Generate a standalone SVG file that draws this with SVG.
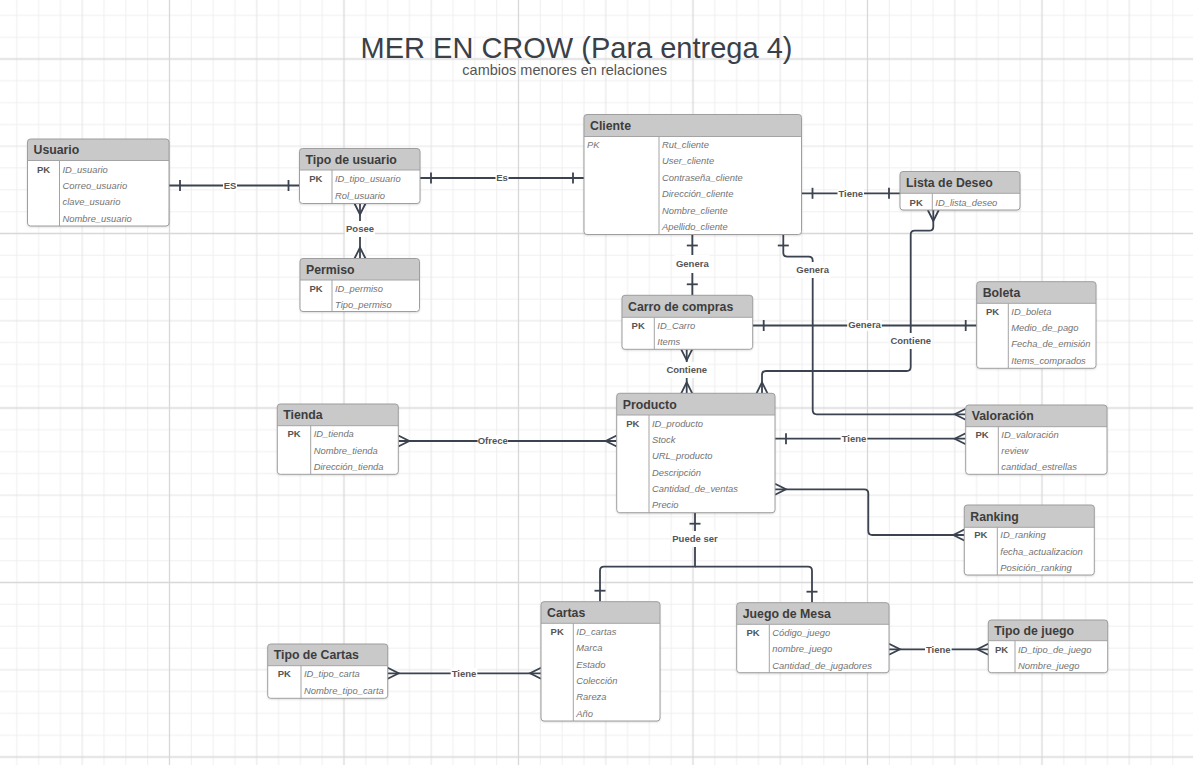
<svg xmlns="http://www.w3.org/2000/svg" width="1193" height="765" viewBox="0 0 1193 765">
<style>
.body{fill:#fff;}
.frame{fill:none;stroke:#9e9e9e;stroke-width:1;}
.hdr{fill:#c9c9c9;}
.sep{stroke:#a4a4a4;stroke-width:1;}
.h{font-family:"Liberation Sans",Arial,sans-serif;font-size:12.3px;font-weight:bold;fill:#3d3d3d;}
.pk{font-family:"Liberation Sans",Arial,sans-serif;font-size:9.5px;font-weight:bold;fill:#555;text-anchor:middle;}
.pki{font-family:"Liberation Sans",Arial,sans-serif;font-size:9.4px;font-style:italic;fill:#777;}
.a{font-family:"Liberation Sans",Arial,sans-serif;font-size:9.4px;font-style:italic;fill:#737373;}
.c{fill:none;stroke:#3b4250;stroke-width:1.8;stroke-linejoin:round;}
.lb{font-family:"Liberation Sans",Arial,sans-serif;font-size:9.5px;font-weight:bold;fill:#555;text-anchor:middle;}
.lbg{fill:#fff;}
.mk{fill:none;stroke:#3b4250;stroke-width:1.8;stroke-linecap:butt;}
</style>
<defs>
<pattern id="grid" patternUnits="userSpaceOnUse" x="82.25" y="-28.25" width="174.5" height="174.5">
<path d="M21.81,0V174.5M43.63,0V174.5M65.44,0V174.5M109.06,0V174.5M130.88,0V174.5M152.69,0V174.5M0,21.81H174.5M0,43.63H174.5M0,65.44H174.5M0,109.06H174.5M0,130.88H174.5M0,152.69H174.5" stroke="#efefef" stroke-width="1" fill="none"/>
<path d="M0,0V174.5M174.5,0V174.5M0,0H174.5M0,174.5H174.5" stroke="#e3e3e3" stroke-width="1" fill="none"/>
<path d="M87.25,0V174.5M0,87.25H174.5" stroke="#d8d8d8" stroke-width="1.3" fill="none"/>
</pattern>
<filter id="sh" x="-5%" y="-5%" width="110%" height="115%">
<feDropShadow dx="0" dy="1" stdDeviation="0.8" flood-color="#000" flood-opacity="0.18"/>
</filter>
<marker id="oneE" markerUnits="userSpaceOnUse" orient="auto" overflow="visible" refX="0" refY="0" markerWidth="1" markerHeight="1"><path class="mk" d="M-11,-5.5V5.5"/></marker>
<marker id="oneS" markerUnits="userSpaceOnUse" orient="auto" overflow="visible" refX="0" refY="0" markerWidth="1" markerHeight="1"><path class="mk" d="M11,-5.5V5.5"/></marker>
<marker id="manyE" markerUnits="userSpaceOnUse" orient="auto" overflow="visible" refX="0" refY="0" markerWidth="1" markerHeight="1"><path class="mk" d="M0,-5.5L-11,0L0,5.5"/></marker>
<marker id="manyS" markerUnits="userSpaceOnUse" orient="auto" overflow="visible" refX="0" refY="0" markerWidth="1" markerHeight="1"><path class="mk" d="M0,-5.5L11,0L0,5.5"/></marker>
</defs>
<rect x="0" y="0" width="1193" height="765" fill="#fff"/>
<rect x="0" y="0" width="1193" height="765" fill="url(#grid)"/>

<g id="title">
<text x="576.5" y="57.5" font-family="'Liberation Sans',Arial,sans-serif" font-size="29" fill="#3b4048" text-anchor="middle">MER EN CROW (Para entrega 4)</text>
<text x="564.7" y="75" font-family="'Liberation Sans',Arial,sans-serif" font-size="14.5" fill="#555" text-anchor="middle">cambios menores en relaciones</text>
</g>

<g id="connectors">
<path class="c" d="M169,185.5H299.5" marker-start="url(#oneS)" marker-end="url(#oneE)"/>
<path class="c" d="M420,178H584" marker-start="url(#oneS)" marker-end="url(#oneE)"/>
<path class="c" d="M360,203.5V258.5" marker-start="url(#manyS)" marker-end="url(#manyE)"/>
<path class="c" d="M801.5,193.3H900" marker-start="url(#oneS)" marker-end="url(#oneE)"/>
<path class="c" d="M692.3,234.5V295.3" marker-start="url(#oneS)" marker-end="url(#oneE)"/>
<path class="c" d="M783.3,234.5V252.7Q783.3,256.7 787.3,256.7H808.7Q812.7,256.7 812.7,260.7V410.3Q812.7,414.3 816.7,414.3H965.7" marker-start="url(#oneS)" marker-end="url(#manyE)"/>
<path class="c" d="M752.7,325.5H976.7" marker-start="url(#oneS)" marker-end="url(#oneE)"/>
<path class="c" d="M686.7,349.3V393.3" marker-start="url(#manyS)" marker-end="url(#manyE)"/>
<path class="c" d="M933.3,210V226.7Q933.3,230.7 929.3,230.7H914.7Q910.7,230.7 910.7,234.7V367Q910.7,371 906.7,371H766Q762,371 762,375V393.3" marker-start="url(#manyS)" marker-end="url(#manyE)"/>
<path class="c" d="M398.3,441H616.7" marker-start="url(#manyS)" marker-end="url(#manyE)"/>
<path class="c" d="M775,438.7H965.7" marker-start="url(#oneS)" marker-end="url(#manyE)"/>
<path class="c" d="M775,489.3H864.3Q868.3,489.3 868.3,493.3V531Q868.3,535 872.3,535H964.3" marker-start="url(#manyS)" marker-end="url(#manyE)"/>
<path class="c" d="M695,512.7V566.7H604Q600,566.7 600,570.7V601.7" marker-start="url(#oneS)" marker-end="url(#oneE)"/>
<path class="c" d="M695,566.7H808Q812,566.7 812,570.7V602.7" marker-end="url(#oneE)"/>
<path class="c" d="M387.7,673.3H541" marker-start="url(#manyS)" marker-end="url(#manyE)"/>
<path class="c" d="M889,649.3H988.3" marker-start="url(#manyS)" marker-end="url(#manyE)"/>
<g id="connector-labels">
<rect class="lbg" x="223" y="180" width="14" height="11"/><text class="lb" x="230" y="188.9">ES</text>
<rect class="lbg" x="495.5" y="172.5" width="13" height="11"/><text class="lb" x="502" y="181.4">Es</text>
<rect class="lbg" x="345" y="221" width="30" height="16"/><text class="lb" x="360" y="232.4">Posee</text>
<rect class="lbg" x="837.5" y="187.8" width="26.5" height="11"/><text class="lb" x="850.7" y="196.7">Tiene</text>
<rect class="lbg" x="675" y="255" width="34.6" height="18"/><text class="lb" x="692.3" y="267.4">Genera</text>
<rect class="lbg" x="795.4" y="262" width="34.6" height="16"/><text class="lb" x="812.7" y="273.4">Genera</text>
<rect class="lbg" x="847.2" y="320" width="34.6" height="11"/><text class="lb" x="864.5" y="328.4">Genera</text>
<rect class="lbg" x="665.4" y="362" width="42.6" height="16"/><text class="lb" x="686.7" y="373.4">Contiene</text>
<rect class="lbg" x="889.4" y="333" width="42.6" height="16"/><text class="lb" x="910.7" y="344.4">Contiene</text>
<rect class="lbg" x="477.6" y="435.5" width="30.2" height="11"/><text class="lb" x="492.7" y="444.4">Ofrece</text>
<rect class="lbg" x="840.7" y="433.2" width="26.6" height="11"/><text class="lb" x="854" y="442.1">Tiene</text>
<rect class="lbg" x="671.5" y="531" width="47" height="16"/><text class="lb" x="695" y="542.4">Puede ser</text>
<rect class="lbg" x="450.7" y="667.8" width="26.6" height="11"/><text class="lb" x="464" y="676.7">Tiene</text>
<rect class="lbg" x="925" y="643.8" width="26.6" height="11"/><text class="lb" x="938.3" y="652.7">Tiene</text>
</g>
</g>

<g id="usuario">
<rect class="body" filter="url(#sh)" x="27.5" y="139" width="141.5" height="87" rx="3"/>
<path class="hdr" d="M27.5,160.5V142Q27.5,139 30.5,139H166Q169,139 169,142V160.5Z"/>
<path class="sep" d="M27.5,160.5H169M59.5,160.5V226"/>
<rect class="frame" x="27.5" y="139" width="141.5" height="87" rx="3"/>
<text class="h" x="33.5" y="154">Usuario</text>
<text class="pk" x="43.5" y="172.5">PK</text>
<text class="a" x="62.5" y="172.5">ID_usuario</text>
<text class="a" x="62.5" y="189">Correo_usuario</text>
<text class="a" x="62.5" y="205.3">clave_usuario</text>
<text class="a" x="62.5" y="221.8">Nombre_usuario</text>
</g>

<g id="tipo-usuario">
<rect class="body" filter="url(#sh)" x="299.5" y="148.5" width="120.5" height="55" rx="3"/>
<path class="hdr" d="M299.5,170V151.5Q299.5,148.5 302.5,148.5H417Q420,148.5 420,151.5V170Z"/>
<path class="sep" d="M299.5,170H420M332,170V203.5"/>
<rect class="frame" x="299.5" y="148.5" width="120.5" height="55" rx="3"/>
<text class="h" x="305.5" y="163.5">Tipo de usuario</text>
<text class="pk" x="315.8" y="182">PK</text>
<text class="a" x="335" y="182">ID_tipo_usuario</text>
<text class="a" x="335" y="198.6">Rol_usuario</text>
</g>

<g id="permiso">
<rect class="body" filter="url(#sh)" x="300" y="258.5" width="119.5" height="53" rx="3"/>
<path class="hdr" d="M300,280V261.5Q300,258.5 303,258.5H416.5Q419.5,258.5 419.5,261.5V280Z"/>
<path class="sep" d="M300,280H419.5M332,280V311.5"/>
<rect class="frame" x="300" y="258.5" width="119.5" height="53" rx="3"/>
<text class="h" x="306" y="273.5">Permiso</text>
<text class="pk" x="316" y="291.8">PK</text>
<text class="a" x="335" y="291.8">ID_permiso</text>
<text class="a" x="335" y="307.8">Tipo_permiso</text>
</g>

<g id="cliente">
<rect class="body" filter="url(#sh)" x="584" y="114.5" width="217.5" height="120" rx="3"/>
<path class="hdr" d="M584,136.5V117.5Q584,114.5 587,114.5H798.5Q801.5,114.5 801.5,117.5V136.5Z"/>
<path class="sep" d="M584,136.5H801.5M659,136.5V234.5"/>
<rect class="frame" x="584" y="114.5" width="217.5" height="120" rx="3"/>
<text class="h" x="590" y="129.8">Cliente</text>
<text class="pki" x="587" y="148">PK</text>
<text class="a" x="662" y="148">Rut_cliente</text>
<text class="a" x="662" y="164.4">User_cliente</text>
<text class="a" x="662" y="180.8">Contraseña_cliente</text>
<text class="a" x="662" y="197.1">Dirección_cliente</text>
<text class="a" x="662" y="213.5">Nombre_cliente</text>
<text class="a" x="662" y="229.9">Apellido_cliente</text>
</g>

<g id="lista-deseo">
<rect class="body" filter="url(#sh)" x="900" y="171.5" width="120" height="38.5" rx="3"/>
<path class="hdr" d="M900,193.3V174.5Q900,171.5 903,171.5H1017Q1020,171.5 1020,174.5V193.3Z"/>
<path class="sep" d="M900,193.3H1020M932.3,193.3V210"/>
<rect class="frame" x="900" y="171.5" width="120" height="38.5" rx="3"/>
<text class="h" x="906" y="186.7">Lista de Deseo</text>
<text class="pk" x="916.2" y="205.6">PK</text>
<text class="a" x="935.3" y="205.6">ID_lista_deseo</text>
</g>

<g id="carro-compras">
<rect class="body" filter="url(#sh)" x="622" y="295.3" width="130.7" height="54" rx="3"/>
<path class="hdr" d="M622,317.3V298.3Q622,295.3 625,295.3H749.7Q752.7,295.3 752.7,298.3V317.3Z"/>
<path class="sep" d="M622,317.3H752.7M654.3,317.3V349.3"/>
<rect class="frame" x="622" y="295.3" width="130.7" height="54" rx="3"/>
<text class="h" x="628" y="310.6">Carro de compras</text>
<text class="pk" x="638.2" y="329">PK</text>
<text class="a" x="657.3" y="329">ID_Carro</text>
<text class="a" x="657.3" y="345">Items</text>
</g>

<g id="boleta">
<rect class="body" filter="url(#sh)" x="976.7" y="281.7" width="119.3" height="86.6" rx="3"/>
<path class="hdr" d="M976.7,303.3V284.7Q976.7,281.7 979.7,281.7H1093Q1096,281.7 1096,284.7V303.3Z"/>
<path class="sep" d="M976.7,303.3H1096M1008.3,303.3V368.3"/>
<rect class="frame" x="976.7" y="281.7" width="119.3" height="86.6" rx="3"/>
<text class="h" x="982.7" y="296.8">Boleta</text>
<text class="pk" x="992.5" y="315">PK</text>
<text class="a" x="1011.3" y="315">ID_boleta</text>
<text class="a" x="1011.3" y="331.1">Medio_de_pago</text>
<text class="a" x="1011.3" y="347.3">Fecha_de_emisión</text>
<text class="a" x="1011.3" y="363.5">Items_comprados</text>
</g>

<g id="tienda">
<rect class="body" filter="url(#sh)" x="277.3" y="404" width="121" height="70.3" rx="3"/>
<path class="hdr" d="M277.3,425.7V407Q277.3,404 280.3,404H395.3Q398.3,404 398.3,407V425.7Z"/>
<path class="sep" d="M277.3,425.7H398.3M310.7,425.7V474.3"/>
<rect class="frame" x="277.3" y="404" width="121" height="70.3" rx="3"/>
<text class="h" x="283.3" y="419.2">Tienda</text>
<text class="pk" x="294" y="437.3">PK</text>
<text class="a" x="313.7" y="437.3">ID_tienda</text>
<text class="a" x="313.7" y="453.8">Nombre_tienda</text>
<text class="a" x="313.7" y="470.3">Dirección_tienda</text>
</g>

<g id="producto">
<rect class="body" filter="url(#sh)" x="616.7" y="393.3" width="158.3" height="119.4" rx="3"/>
<path class="hdr" d="M616.7,415V396.3Q616.7,393.3 619.7,393.3H772Q775,393.3 775,396.3V415Z"/>
<path class="sep" d="M616.7,415H775M649,415V512.7"/>
<rect class="frame" x="616.7" y="393.3" width="158.3" height="119.4" rx="3"/>
<text class="h" x="622.7" y="408.5">Producto</text>
<text class="pk" x="632.8" y="426.6">PK</text>
<text class="a" x="652" y="426.6">ID_producto</text>
<text class="a" x="652" y="443">Stock</text>
<text class="a" x="652" y="459.3">URL_producto</text>
<text class="a" x="652" y="475.7">Descripción</text>
<text class="a" x="652" y="492">Cantidad_de_ventas</text>
<text class="a" x="652" y="508.4">Precio</text>
</g>

<g id="valoracion">
<rect class="body" filter="url(#sh)" x="965.7" y="405" width="141.3" height="69.3" rx="3"/>
<path class="hdr" d="M965.7,426.7V408Q965.7,405 968.7,405H1104Q1107,405 1107,408V426.7Z"/>
<path class="sep" d="M965.7,426.7H1107M998.3,426.7V474.3"/>
<rect class="frame" x="965.7" y="405" width="141.3" height="69.3" rx="3"/>
<text class="h" x="971.7" y="420.2">Valoración</text>
<text class="pk" x="982" y="437.8">PK</text>
<text class="a" x="1001.3" y="437.8">ID_valoración</text>
<text class="a" x="1001.3" y="454.1">review</text>
<text class="a" x="1001.3" y="470.3">cantidad_estrellas</text>
</g>

<g id="ranking">
<rect class="body" filter="url(#sh)" x="964.3" y="505" width="130" height="70" rx="3"/>
<path class="hdr" d="M964.3,527.3V508Q964.3,505 967.3,505H1091.3Q1094.3,505 1094.3,508V527.3Z"/>
<path class="sep" d="M964.3,527.3H1094.3M997.3,527.3V575"/>
<rect class="frame" x="964.3" y="505" width="130" height="70" rx="3"/>
<text class="h" x="970.3" y="520.5">Ranking</text>
<text class="pk" x="980.8" y="538.3">PK</text>
<text class="a" x="1000.3" y="538.3">ID_ranking</text>
<text class="a" x="1000.3" y="554.8">fecha_actualizacion</text>
<text class="a" x="1000.3" y="571.1">Posición_ranking</text>
</g>

<g id="cartas">
<rect class="body" filter="url(#sh)" x="541" y="601.7" width="119" height="119.3" rx="3"/>
<path class="hdr" d="M541,623.3V604.7Q541,601.7 544,601.7H657Q660,601.7 660,604.7V623.3Z"/>
<path class="sep" d="M541,623.3H660M573.3,623.3V721"/>
<rect class="frame" x="541" y="601.7" width="119" height="119.3" rx="3"/>
<text class="h" x="547" y="617">Cartas</text>
<text class="pk" x="557.2" y="635">PK</text>
<text class="a" x="576.3" y="635">ID_cartas</text>
<text class="a" x="576.3" y="651.3">Marca</text>
<text class="a" x="576.3" y="667.6">Estado</text>
<text class="a" x="576.3" y="683.9">Colección</text>
<text class="a" x="576.3" y="700.2">Rareza</text>
<text class="a" x="576.3" y="716.5">Año</text>
</g>

<g id="tipo-cartas">
<rect class="body" filter="url(#sh)" x="267.7" y="644" width="120" height="54.3" rx="3"/>
<path class="hdr" d="M267.7,665.7V647Q267.7,644 270.7,644H384.7Q387.7,644 387.7,647V665.7Z"/>
<path class="sep" d="M267.7,665.7H387.7M301,665.7V698.3"/>
<rect class="frame" x="267.7" y="644" width="120" height="54.3" rx="3"/>
<text class="h" x="273.7" y="659.2">Tipo de Cartas</text>
<text class="pk" x="284.3" y="677.3">PK</text>
<text class="a" x="304" y="677.3">ID_tipo_carta</text>
<text class="a" x="304" y="693.8">Nombre_tipo_carta</text>
</g>

<g id="juego-mesa">
<rect class="body" filter="url(#sh)" x="736.7" y="602.7" width="152.3" height="70" rx="3"/>
<path class="hdr" d="M736.7,624.3V605.7Q736.7,602.7 739.7,602.7H886Q889,602.7 889,605.7V624.3Z"/>
<path class="sep" d="M736.7,624.3H889M769.3,624.3V672.7"/>
<rect class="frame" x="736.7" y="602.7" width="152.3" height="70" rx="3"/>
<text class="h" x="742.7" y="617.8">Juego de Mesa</text>
<text class="pk" x="753" y="636">PK</text>
<text class="a" x="772.3" y="636">Código_juego</text>
<text class="a" x="772.3" y="652.3">nombre_juego</text>
<text class="a" x="772.3" y="668.6">Cantidad_de_jugadores</text>
</g>

<g id="tipo-juego">
<rect class="body" filter="url(#sh)" x="988.3" y="620" width="119.4" height="52.7" rx="3"/>
<path class="hdr" d="M988.3,640.7V623Q988.3,620 991.3,620H1104.7Q1107.7,620 1107.7,623V640.7Z"/>
<path class="sep" d="M988.3,640.7H1107.7M1015,640.7V672.7"/>
<rect class="frame" x="988.3" y="620" width="119.4" height="52.7" rx="3"/>
<text class="h" x="994.3" y="634.7">Tipo de juego</text>
<text class="pk" x="1001.6" y="652.6">PK</text>
<text class="a" x="1018" y="652.6">ID_tipo_de_juego</text>
<text class="a" x="1018" y="668.8">Nombre_juego</text>
</g>
</svg>
